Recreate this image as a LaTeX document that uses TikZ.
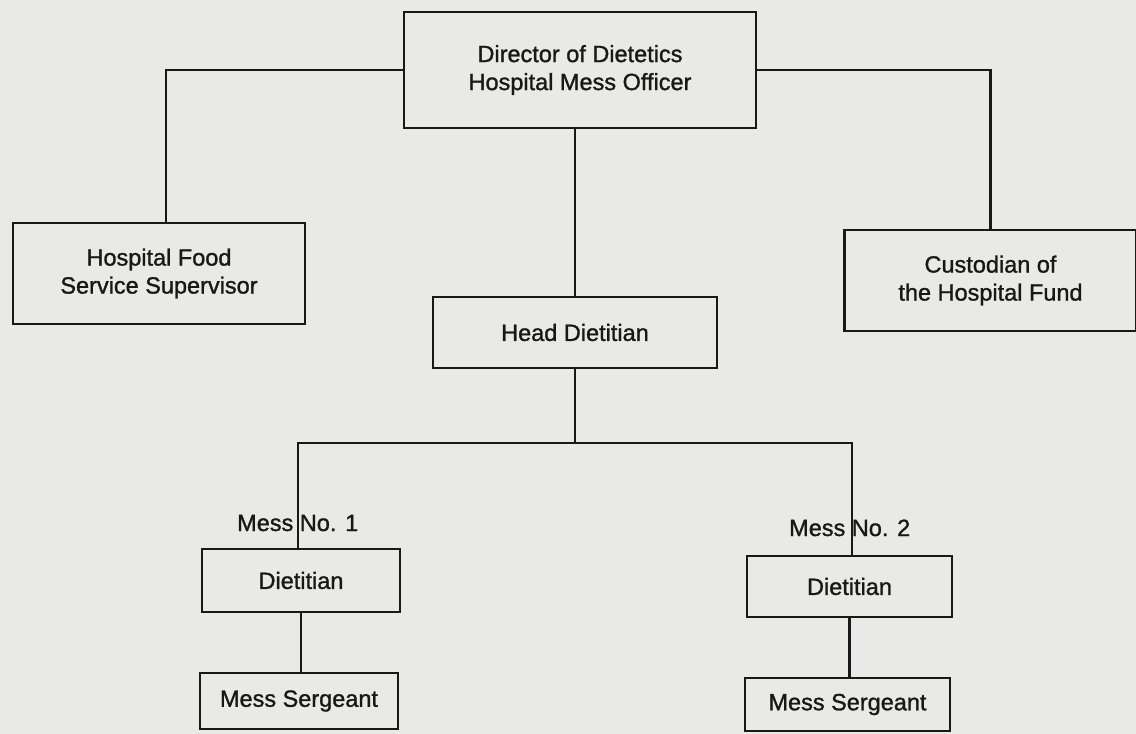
\documentclass[tikz,border=0pt]{standalone}
\usepackage{fontspec}
\setmainfont{Liberation Sans}
\newfontfamily\inkfont{Liberation Sans}[FakeBold=1.2]
\definecolor{paper}{RGB}{233,233,231}
\definecolor{ink}{RGB}{24,24,24}
\begin{document}
\begin{tikzpicture}[x=1pt,y=-1pt,
  box/.style={draw=ink,line width=2.8pt,inner sep=0pt,align=center,text=ink,
    font=\inkfont\fontsize{23.5}{28}\selectfont},
  link/.style={draw=ink,line width=2.8pt},
  lbl/.style={inner sep=0pt,text=ink,font=\inkfont\fontsize{23.5}{28}\selectfont}]
\fill[paper] (0,0) rectangle (1136,734);
\useasboundingbox (0,0) rectangle (1136,734);
\node[box,minimum width=352pt,minimum height=116pt] (dir) at (580,70) {Director of Dietetics\\Hospital Mess Officer};
\node[box,minimum width=292pt,minimum height=101pt] (hfs) at (159,273.5) {Hospital Food\\Service Supervisor};
\node[box,minimum width=292pt,minimum height=101pt] (cust) at (990.5,280.5) {Custodian of\\the Hospital Fund};
\node[box,minimum width=284pt,minimum height=71pt] (head) at (575,332.5) {Head Dietitian};
\node[box,minimum width=198pt,minimum height=63pt] (d1) at (301,580.5) {Dietitian};
\node[box,minimum width=198pt,minimum height=56pt] (s1) at (299,701) {Mess Sergeant};
\node[box,minimum width=205pt,minimum height=61pt] (d2) at (849.5,586.5) {Dietitian};
\node[box,minimum width=205pt,minimum height=53pt] (s2) at (847.5,704.5) {Mess Sergeant};
\node[lbl,anchor=base west] (m1) at (237,531) {Mess No. 1};
\node[lbl,anchor=base west] (m2) at (789,536) {Mess No. 2};
\coordinate (bus) at (575,443);
\draw[link] (dir.west) -| ([xshift=7pt]hfs.north);
\draw[link] (dir.east) -| (cust.north);
\draw[link] (head.north) -- (head.north |- dir.south);
\draw[link] (head.south) -- (bus);
\draw[link] ([xshift=-3pt]d1.north) |- (bus) -| ([xshift=2.5pt]d2.north);
\draw[link] (d1.south) -- (d1.south |- s1.north);
\draw[link] (d2.south) -- (d2.south |- s2.north);
\end{tikzpicture}
\end{document}
